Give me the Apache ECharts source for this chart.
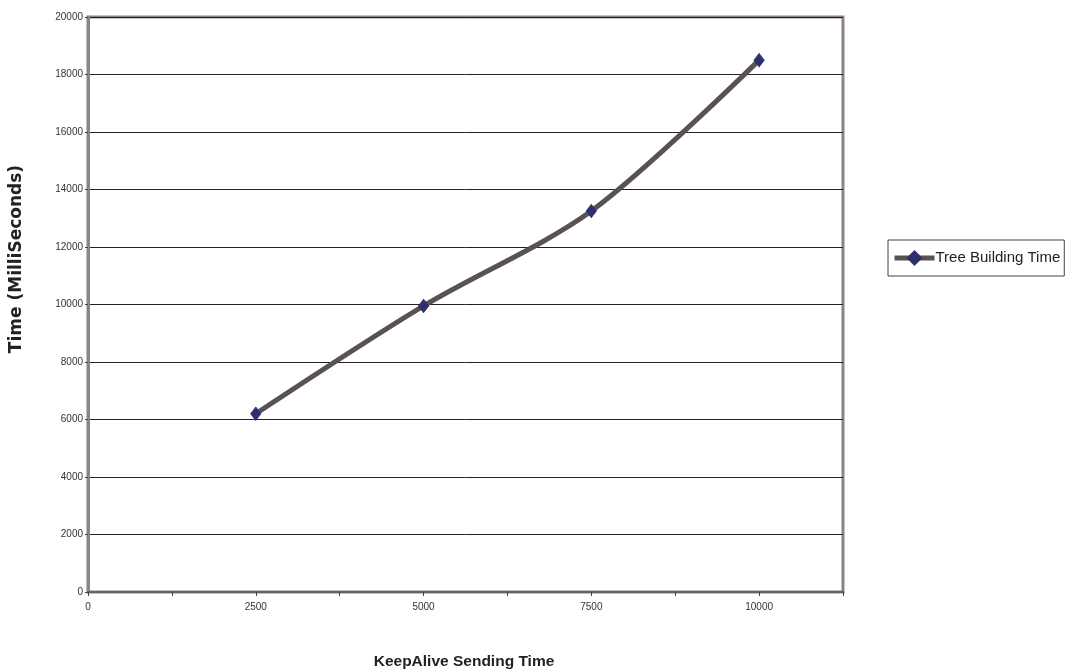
<!DOCTYPE html>
<html>
<head>
<meta charset="utf-8">
<script src="https://cdn.jsdelivr.net/npm/echarts@6/dist/echarts.min.js"></script>
<style>
html,body{margin:0;padding:0;background:#fff;}
#chart{width:1070px;height:672px;}
</style>
</head>
<body>
<div id="chart"></div>
<script>
var xValues = [2500, 5000, 7500, 10000];
var treeBuildingTime = [6200, 9950, 13250, 18500];
var seriesName = 'Tree Building Time';
var xTitle = 'KeepAlive Sending Time';
var yTitle = 'Time (MilliSeconds)';

var chart = echarts.init(document.getElementById('chart'));
var data = xValues.map(function (x, i) { return [x, treeBuildingTime[i]]; });

chart.setOption({
  animation: false,
  backgroundColor: '#fff',
  textStyle: { fontFamily: 'Liberation Sans, Arial, sans-serif' },
  grid: {
    left: 88, top: 17, right: 227, bottom: 80,
    show: true, borderColor: '#8c8484', borderWidth: 3, backgroundColor: '#fff'
  },
  legend: {
    left: 888, top: 240,
    padding: [10, 4, 10, 4],
    borderColor: '#444', borderWidth: 1,
    itemWidth: 40, itemHeight: 20, itemGap: 0,
    lineStyle: { width: 5, color: '#5a5252' },
    itemStyle: { color: '#2e2f6e' },
    textStyle: { fontSize: 15, color: '#222', fontFamily: 'Liberation Sans, Arial, sans-serif', padding: [0, 0, 0, -4] },
    data: [seriesName]
  },
  xAxis: {
    type: 'value', min: 0, max: 11250, interval: 1250,
    axisLine: { show: true, lineStyle: { color: '#6b6262', width: 2 } },
    axisTick: { show: true, length: 4, lineStyle: { color: '#444' } },
    axisLabel: {
      fontSize: 10, color: '#333', margin: 10,
      formatter: function (v) { return v % 2500 === 0 ? String(v) : ''; }
    },
    splitLine: { show: false }
  },
  yAxis: {
    type: 'value', min: 0, max: 20000, interval: 2000,
    axisLine: { show: true, lineStyle: { color: '#8c8484', width: 3 } },
    axisTick: { show: true, length: 3, lineStyle: { color: '#444' } },
    axisLabel: { fontSize: 10, color: '#333', margin: 5, formatter: function (v) { return String(v); } },
    splitLine: { show: true, lineStyle: { color: '#222', width: 1 } }
  },
  graphic: [
    {
      type: 'text', x: 464, y: 662,
      style: { text: xTitle, font: 'bold 15.5px "Liberation Sans", Arial, sans-serif', fill: '#222', align: 'center', verticalAlign: 'middle' }
    },
    {
      type: 'text', x: 17, y: 259, rotation: Math.PI / 2,
      style: { text: yTitle, font: 'bold 17px "DejaVu Sans", sans-serif', fill: '#222', align: 'center', verticalAlign: 'middle' }
    }
  ],
  series: [{
    name: seriesName,
    type: 'line',
    data: data,
    smooth: 0.3,
    symbol: 'diamond',
    symbolSize: [10, 13],
    lineStyle: { color: '#5a5252', width: 5 },
    itemStyle: { color: '#2e2f6e', borderColor: '#2e2f6e' }
  }]
});
</script>
</body>
</html>
